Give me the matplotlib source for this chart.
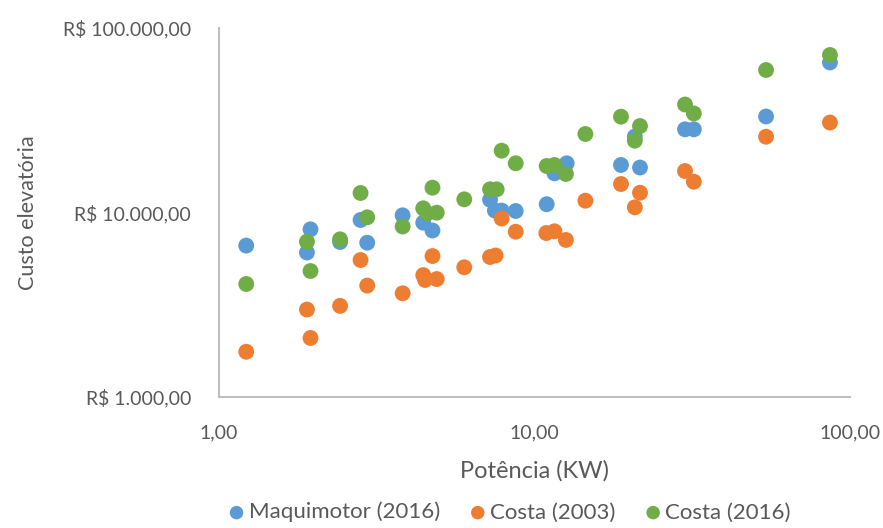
import matplotlib.pyplot as plt
from matplotlib.ticker import FixedLocator, NullLocator, FuncFormatter

plt.rcParams['font.family'] = ['Lato', 'DejaVu Sans']

# Dados (potência em kW, custo em R$)
maq_kw = [1.22, 1.95, 1.90, 2.42, 2.81, 2.95, 3.82, 4.44, 4.75, 7.23, 7.49, 7.87,
          8.72, 10.93, 11.57, 12.65, 18.8, 20.8, 21.6, 30.0, 32.0, 54.2, 86.4]
maq_custo = [6620, 8110, 6070, 6920, 9110, 6860, 9660, 8810, 7990, 11730, 10250, 10250,
             10190, 11090, 16310, 18480, 18100, 25820, 17530, 28240, 28240, 33140, 65020]

c03_kw = [1.22, 1.90, 1.95, 2.42, 2.81, 2.95, 3.82, 4.44, 4.50, 4.75, 4.90, 5.99, 7.23,
          7.53, 7.87, 8.72, 10.9, 11.57, 12.58, 14.5, 18.8, 20.8, 21.6, 30.0, 32.0, 54.2, 86.4]
c03_custo = [1760, 2980, 2090, 3120, 5530, 4020, 3650, 4580, 4310, 5810, 4360, 5050, 5740,
             5850, 9280, 7870, 7740, 7910, 7100, 11590, 14270, 10670, 12800, 16790, 14690,
             25750, 30740]

c16_kw = [1.22, 1.90, 1.95, 2.42, 2.81, 2.95, 3.82, 4.44, 4.57, 4.75, 4.90, 5.99, 7.23,
          7.59, 7.87, 8.72, 10.93, 11.57, 12.58, 14.5, 18.8, 20.8, 21.6, 30.0, 32.0, 54.2, 86.4]
c16_custo = [4100, 6950, 4820, 7160, 12760, 9420, 8400, 10540, 9900, 13630, 9980, 11790,
             13360, 13360, 21630, 18480, 17870, 18100, 16170, 26640, 33060, 24500, 29430,
             38490, 34420, 59200, 71400]

x_ticks = [1, 10, 100]
y_ticks = [1000, 10000, 100000]

cor_texto = '#595959'
cor_eixo = '#bfbfbf'

fig = plt.figure(figsize=(8.83, 5.28), dpi=100)
ax = fig.add_axes([0.248, 0.248, 0.7146, 0.699])

ms = 130
ax.scatter(maq_kw, maq_custo, s=ms, color='#5B9BD5', edgecolors='none', label='Maquimotor (2016)', zorder=3)
ax.scatter(c03_kw, c03_custo, s=ms, color='#ED7D31', edgecolors='none', label='Costa (2003)', zorder=3)
ax.scatter(c16_kw, c16_custo, s=ms, color='#70AD47', edgecolors='none', label='Costa (2016)', zorder=3)

ax.set_xscale('log')
ax.set_yscale('log')
ax.set_xlim(1, 100)
ax.set_ylim(1000, 100000)

def fmt_br(v, decimais=2):
    s = f"{v:,.{decimais}f}"
    return s.replace(',', 'X').replace('.', ',').replace('X', '.')

ax.xaxis.set_major_locator(FixedLocator(x_ticks))
ax.yaxis.set_major_locator(FixedLocator(y_ticks))
ax.xaxis.set_minor_locator(NullLocator())
ax.yaxis.set_minor_locator(NullLocator())
ax.xaxis.set_major_formatter(FuncFormatter(lambda v, p: fmt_br(v)))
ax.yaxis.set_major_formatter(FuncFormatter(lambda v, p: 'R$ ' + fmt_br(v)))

for lado in ['top', 'right']:
    ax.spines[lado].set_visible(False)
for lado in ['left', 'bottom']:
    ax.spines[lado].set_color(cor_eixo)
    ax.spines[lado].set_linewidth(1.5)
    ax.spines[lado].set_zorder(1)

ax.tick_params(axis='both', length=0, labelsize=14, labelcolor=cor_texto)
ax.tick_params(axis='y', pad=20)
ax.tick_params(axis='x', pad=20)

ax.set_xlabel('Potência (KW)', fontsize=17, color=cor_texto, labelpad=13)
ax.set_ylabel('Custo elevatória', fontsize=15.5, color=cor_texto, labelpad=18)

leg = fig.legend(loc='center', bbox_to_anchor=(0.578, 0.03), bbox_transform=fig.transFigure,
                 ncol=3, frameon=False, fontsize=16, handlelength=0.6, handletextpad=0.25,
                 columnspacing=1.4, markerscale=0.85, borderaxespad=0, borderpad=0)
for t in leg.get_texts():
    t.set_color(cor_texto)

fig.savefig('out.png', dpi=100)
